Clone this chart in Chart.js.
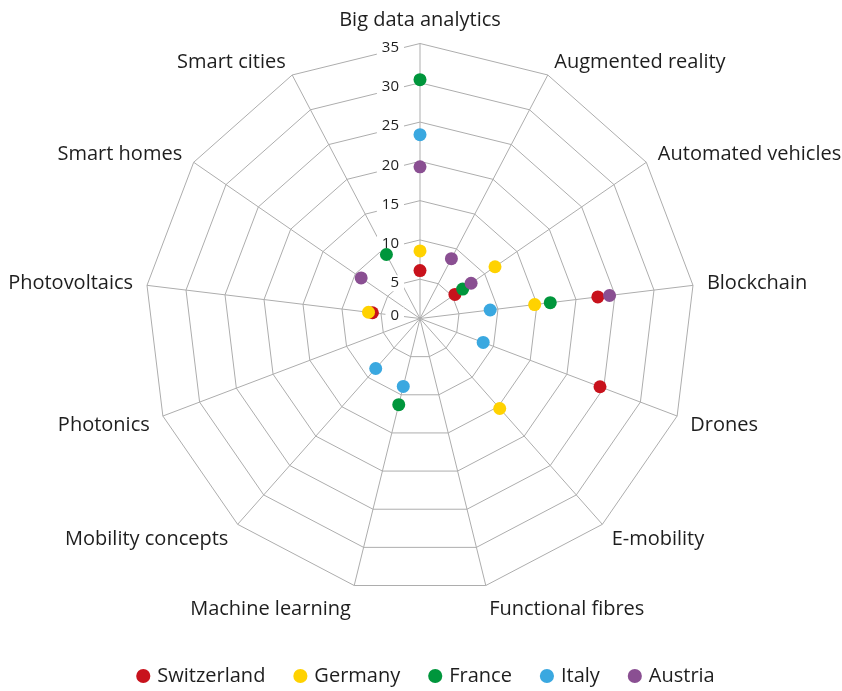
<!DOCTYPE html>
<html>
<head>
<meta charset="utf-8">
<script src="https://cdn.jsdelivr.net/npm/chart.js@4/dist/chart.umd.min.js"></script>
<style>
  body { margin: 0; background: #fff; }
  #wrap { width: 842px; height: 691px; }
</style>
</head>
<body>
<div id="wrap"><canvas id="radar"></canvas></div>
<script>
// Categories, clockwise from the top
const categories = [
    'Big data analytics', 'Augmented reality', 'Automated vehicles', 'Blockchain',
    'Drones', 'E-mobility', 'Functional fibres', 'Machine learning',
    'Mobility concepts', 'Photonics', 'Photovoltaics', 'Smart homes', 'Smart cities'
];

// Series values (null = no point)
const switzerland = [6.1, null, 5.4, 22.8, 24.5, null, null, null, null, null, 6.1, null, null];
const germany     = [8.6, null, 11.6, 14.7, null, 15.3, null, null, null, null, 6.6, null, null];
const france      = [30.4, null, 6.6, 16.7, null, null, null, 11.3, null, null, null, null, 9.2];
const italy       = [23.4, null, null, 9.0, 8.6, null, null, 8.9, 8.5, null, null, null, null];
const austria     = [19.3, 8.6, 7.9, 24.3, null, null, null, null, null, null, null, 9.1, null];

const tickValues = [0, 5, 10, 15, 20, 25, 30, 35];

const seriesNames = ['Switzerland', 'Germany', 'France', 'Italy', 'Austria'];
const seriesData = [switzerland, germany, france, italy, austria];
const seriesColors = ['#c8121c', '#ffd200', '#00963c', '#3aa8e0', '#8a4f92'];

const FONT = '"Open Sans", "Noto Sans", sans-serif';
const TEXT_COLOR = '#1e1e1e';
const GRID_COLOR = '#adadad';

// Scale tick labels drawn beside the vertical axis, with a white backdrop
const tickLabelPlugin = {
    id: 'tickLabels',
    beforeDatasetsDraw(chart) {
        const scale = chart.scales.r;
        const ctx = chart.ctx;
        ctx.save();
        ctx.font = '15px ' + FONT;
        ctx.textAlign = 'right';
        ctx.textBaseline = 'middle';
        tickValues.forEach(v => {
            const y = scale.yCenter - scale.getDistanceFromCenterForValue(v) + (v === 0 ? -3 : 4);
            const x = scale.xCenter - 21;
            const w = ctx.measureText(String(v)).width;
            ctx.fillStyle = '#fff';
            ctx.fillRect(x - w - 5, y - 8, w + 10, 16);
            ctx.fillStyle = TEXT_COLOR;
            ctx.fillText(String(v), x, y);
        });
        ctx.restore();
    }
};

// Category labels placed round the outer ring
const pointLabelPlugin = {
    id: 'pointLabelsCustom',
    afterDraw(chart) {
        const scale = chart.scales.r;
        const ctx = chart.ctx;
        ctx.save();
        ctx.font = '20px ' + FONT;
        ctx.fillStyle = TEXT_COLOR;
        categories.forEach((label, i) => {
            const pos = scale.getPointPosition(i, scale.drawingArea + 14);
            const deg = (i * 360) / categories.length;
            let align = 'center', base = 'middle', dy = 0;
            if (deg > 1 && deg < 179) align = 'left';
            else if (deg > 181 && deg < 359) align = 'right';
            if (deg < 20 || deg > 340) { base = 'bottom'; dy = 1; }
            else if (deg > 160 && deg < 200) base = 'top';
            else if (deg > 90 && deg < 270) dy = 4;   // lower side labels sit a little lower
            ctx.textAlign = align;
            ctx.textBaseline = base;
            ctx.fillText(label, pos.x, pos.y + dy);
        });
        ctx.restore();
    }
};

new Chart(document.getElementById('radar'), {
    type: 'radar',
    data: {
        labels: categories,
        datasets: seriesNames.map((name, i) => ({
            label: name,
            data: seriesData[i],
            showLine: false,
            fill: false,
            borderWidth: 0,
            borderColor: seriesColors[i],
            backgroundColor: seriesColors[i],
            pointBackgroundColor: seriesColors[i],
            pointBorderWidth: 0,
            pointRadius: 6.5,
            pointHoverRadius: 6.5,
            order: seriesNames.length - i,
        })),
    },
    options: {
        responsive: true,
        maintainAspectRatio: false,
        animation: false,
        layout: { padding: { left: 12, bottom: -5 } },
        plugins: {
            tooltip: { enabled: false },
            legend: {
                position: 'bottom',
                labels: {
                    usePointStyle: true,
                    boxWidth: 8,
                    boxHeight: 10,
                    padding: 31,
                    color: TEXT_COLOR,
                    font: { family: FONT, size: 20 },
                    sort: (a, b) => a.datasetIndex - b.datasetIndex,
                },
            },
        },
        scales: {
            r: {
                min: 0,
                max: 35,
                ticks: { stepSize: 5, display: false },
                grid: { color: GRID_COLOR, lineWidth: 1 },
                angleLines: { color: GRID_COLOR, lineWidth: 1 },
                pointLabels: { display: false },
                afterFit(scale) {
                    scale.xCenter = 420;
                    scale.yCenter = 318.5;
                    scale.drawingArea = 275;
                },
            },
        },
    },
    plugins: [tickLabelPlugin, pointLabelPlugin],
});
</script>
</body>
</html>
